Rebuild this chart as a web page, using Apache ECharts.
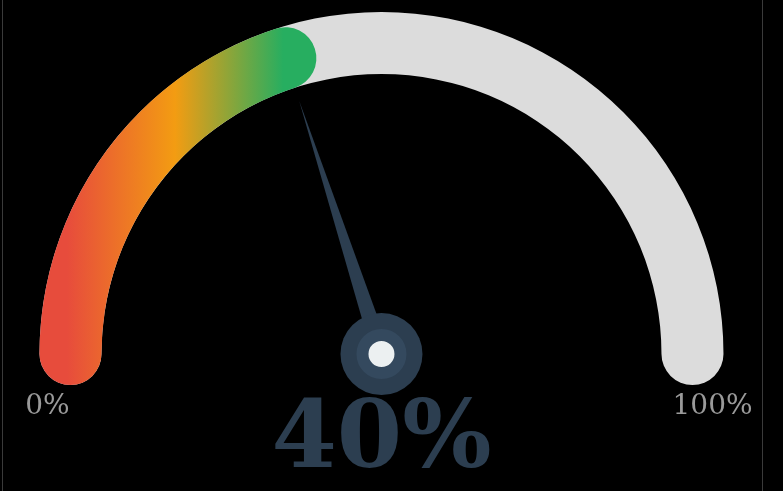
<!DOCTYPE html>
<html>
<head>
<meta charset="utf-8">
<script src="https://cdn.jsdelivr.net/npm/echarts@6/dist/echarts.min.js"></script>
<style>
html,body{margin:0;padding:0;background:#000;}
#chart{width:783px;height:491px;}
</style>
</head>
<body>
<div id="chart"></div>
<script>
const gaugeMin = 0;
const gaugeMax = 100;
const gaugeValue = [40];
const endLabels = ['0%', '100%'];
const endValues = [0, 100];

const center = ['48.72%', '72.1%'];
const radius = 342;
const serif = "Georgia, 'DejaVu Serif', serif";

const chart = echarts.init(document.getElementById('chart'));
const hidden = {
  splitLine: {show: false, length: 0},
  axisTick: {show: false},
  axisLabel: {show: false}
};
chart.setOption({
  backgroundColor: '#000',
  graphic: [
    {type: 'line', shape: {x1: 2.5, y1: 0, x2: 2.5, y2: 491}, style: {stroke: '#3a3a3a', lineWidth: 1}},
    {type: 'line', shape: {x1: 762.5, y1: 0, x2: 762.5, y2: 491}, style: {stroke: '#3a3a3a', lineWidth: 1}}
  ],
  series: [
    {
      type: 'gauge',
      center: center,
      radius: radius,
      startAngle: 180,
      endAngle: 0,
      min: gaugeMin,
      max: gaugeMax,
      axisLine: {roundCap: true, lineStyle: {width: 62, color: [[1, '#dcdcdc']]}},
      progress: {
        show: true, roundCap: true, width: 62,
        itemStyle: {
          color: new echarts.graphic.LinearGradient(0, 0, 1, 0, [
            {offset: 0, color: '#e74c3c'},
            {offset: 0.1, color: '#e74c3c'},
            {offset: 0.49, color: '#f39c12'},
            {offset: 0.88, color: '#27ae60'},
            {offset: 1, color: '#27ae60'}
          ])
        }
      },
      ...hidden,
      pointer: {show: true, length: '77.8%', width: 9, itemStyle: {color: '#2c3e50'}},
      anchor: {show: true, showAbove: true, size: 82, itemStyle: {color: '#2c3e50'}},
      title: {show: false},
      detail: {
        show: true,
        offsetCenter: [0, '26%'],
        formatter: '{value}%',
        fontSize: 94,
        fontWeight: 'bold',
        fontFamily: serif,
        color: '#2c3e50'
      },
      data: [{value: gaugeValue[0]}]
    },
    {
      type: 'gauge',
      center: center,
      radius: radius,
      startAngle: 180,
      endAngle: 0,
      min: gaugeMin,
      max: gaugeMax,
      axisLine: {show: false},
      progress: {show: false},
      ...hidden,
      pointer: {show: false},
      anchor: {show: true, showAbove: true, size: 38, itemStyle: {color: '#ecf0f1', borderColor: '#34495e', borderWidth: 12}},
      title: {show: false},
      detail: {show: false},
      data: [{value: gaugeValue[0]}]
    },
    {
      type: 'gauge',
      center: center,
      radius: radius,
      startAngle: 180,
      endAngle: 0,
      min: gaugeMin,
      max: gaugeMax,
      axisLine: {show: false},
      progress: {show: false},
      ...hidden,
      pointer: {show: false},
      anchor: {show: false},
      detail: {show: false},
      title: {show: true, color: '#9a9a9a', fontSize: 28, fontFamily: serif},
      data: [
        {value: endValues[0], name: endLabels[0], title: {offsetCenter: ['-97.7%', '15.5%']}},
        {value: endValues[1], name: endLabels[1], title: {offsetCenter: ['96.8%', '15.5%']}}
      ]
    }
  ]
});
</script>
</body>
</html>
